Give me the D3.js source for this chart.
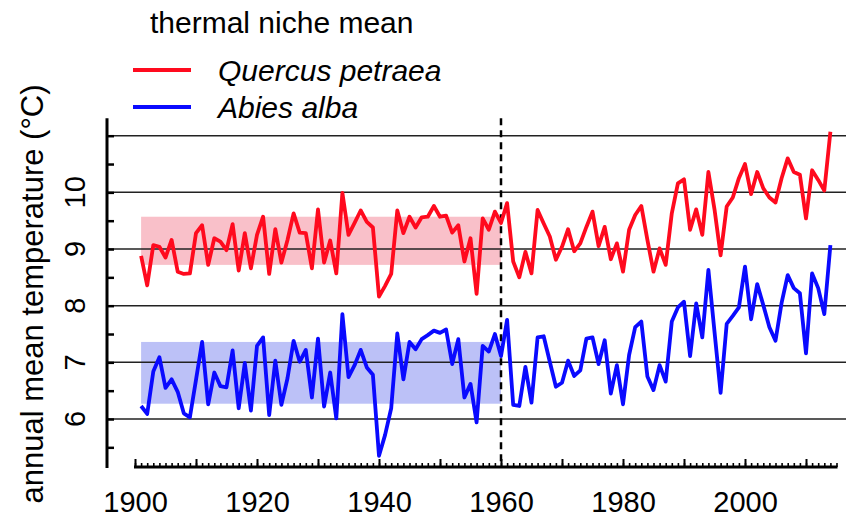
<!DOCTYPE html>
<html>
<head>
<meta charset="utf-8">
<script src="https://cdn.jsdelivr.net/npm/d3@7"></script>
<style>
  html, body { margin: 0; padding: 0; background: #fff; }
  svg { display: block; font-family: "Liberation Sans", Arial, sans-serif; }
</style>
</head>
<body>
<svg id="chart" width="853" height="518"></svg>
<script>
// Annual mean temperature within each species' thermal niche, 1901-2014
const years = d3.range(1901, 2015);

const quercusPetraea = [
  8.88, 8.36, 9.07, 9.04, 8.85, 9.16, 8.60, 8.56, 8.57, 9.28,
  9.42, 8.72, 9.19, 9.13, 8.98, 9.44, 8.62, 9.28, 8.66, 9.25,
  9.57, 8.56, 9.35, 8.76, 9.16, 9.63, 9.29, 9.28, 8.66, 9.70,
  8.76, 9.15, 8.57, 9.99, 9.25, 9.46, 9.68, 9.48, 9.38, 8.16,
  8.35, 8.56, 9.68, 9.28, 9.57, 9.38, 9.56, 9.57, 9.76, 9.57,
  9.59, 9.29, 9.42, 8.78, 9.19, 8.21, 9.54, 9.34, 9.66, 9.46,
  9.81, 8.78, 8.50, 8.95, 8.57, 9.69, 9.45, 9.22, 8.81, 9.04,
  9.35, 8.96, 9.10, 9.39, 9.66, 9.05, 9.39, 8.82, 9.10, 8.60,
  9.34, 9.60, 9.76, 9.16, 8.60, 9.01, 8.72, 9.63, 10.16, 10.23,
  9.34, 9.70, 9.25, 10.36, 9.70, 8.89, 9.75, 9.91, 10.25, 10.50,
  9.97, 10.36, 10.07, 9.91, 9.82, 10.25, 10.60, 10.36, 10.31, 9.54,
  10.39, 10.22, 10.03, 11.07
];

const abiesAlba = [
  6.23, 6.09, 6.84, 7.09, 6.55, 6.70, 6.48, 6.10, 6.03, 6.69,
  7.36, 6.26, 6.82, 6.58, 6.56, 7.21, 6.19, 6.99, 6.15, 7.29,
  7.44, 6.07, 7.03, 6.25, 6.72, 7.38, 7.01, 7.22, 6.38, 7.42,
  6.22, 6.82, 6.01, 7.85, 6.74, 6.95, 7.22, 6.91, 6.78, 5.35,
  5.72, 6.19, 7.51, 6.70, 7.36, 7.23, 7.41, 7.48, 7.56, 7.52,
  7.58, 6.97, 7.41, 6.38, 6.62, 5.94, 7.29, 7.19, 7.50, 7.11,
  7.75, 6.25, 6.23, 6.92, 6.29, 7.44, 7.46, 7.01, 6.57, 6.64,
  7.03, 6.76, 6.86, 7.42, 7.44, 6.97, 7.39, 6.45, 6.95, 6.26,
  7.13, 7.62, 7.72, 6.75, 6.51, 6.95, 6.66, 7.72, 7.97, 8.07,
  7.11, 8.04, 7.44, 8.63, 7.54, 6.46, 7.68, 7.82, 7.97, 8.69,
  7.76, 8.38, 8.01, 7.62, 7.38, 8.05, 8.54, 8.31, 8.22, 7.16,
  8.57, 8.31, 7.85, 9.07
];

// Thermal niche bands over the reference period 1901-1960
const nichePeriod = [1901, 1960];
const quercusNiche = [8.72, 9.57];
const abiesNiche = [6.27, 7.36];

const splitYear = 1960;
const yTicks = [6, 7, 8, 9, 10, 11];
const yTickLabels = ["6", "7", "8", "9", "10"];
const xTickLabels = [1900, 1920, 1940, 1960, 1980, 2000];

const speciesNames = ["Quercus petraea", "Abies alba"];
const speciesColors = ["#ff0a1e", "#0a0aff"];
const nicheFills = ["#f9c0c9", "#bcc1f7"];

const svg = d3.select("#chart");

const x = d3.scaleLinear().domain([1900, 2015]).range([135, 836.5]);
const y = d3.scaleLinear().domain([6, 11]).range([419, 135.7]);

const yAxisX = 107;
const xAxisY = 467;
const yTop = y(11.31), yBottom = xAxisY + 1;

// niche bands
const bands = [quercusNiche, abiesNiche];
svg.append("g").selectAll("rect").data(bands).join("rect")
  .attr("x", x(nichePeriod[0]))
  .attr("width", x(nichePeriod[1]) - x(nichePeriod[0]))
  .attr("y", d => y(d[1]))
  .attr("height", d => y(d[0]) - y(d[1]))
  .attr("fill", (d, i) => nicheFills[i]);

// horizontal grid
svg.append("g").selectAll("line").data(yTicks).join("line")
  .attr("x1", yAxisX).attr("x2", 846)
  .attr("y1", d => y(d)).attr("y2", d => y(d))
  .attr("stroke", "#222").attr("stroke-width", 1.5);

// y axis: ticks every 0.5 pointing inwards
const yAxis = d3.axisRight(y).tickValues(d3.range(5.5, 11.01, 0.5))
  .tickSize(7).tickFormat("");
const gy = svg.append("g").attr("transform", `translate(${yAxisX},0)`).call(yAxis);
gy.select(".domain").remove();
gy.selectAll(".tick line").attr("stroke", "#000").attr("stroke-width", 2.5);
svg.append("line")
  .attr("x1", yAxisX).attr("x2", yAxisX)
  .attr("y1", yTop).attr("y2", yBottom)
  .attr("stroke", "#000").attr("stroke-width", 3);

// y tick labels, rotated
svg.append("g").selectAll("text").data(yTickLabels).join("text")
  .attr("transform", d => `translate(85,${y(+d)}) rotate(-90)`)
  .attr("text-anchor", "middle")
  .attr("font-size", 29)
  .attr("fill", "#000")
  .text(d => d);

// x axis: yearly minor ticks, decadal major ticks, both pointing up
const minorAxis = d3.axisBottom(x).tickValues(d3.range(1900, 2016, 1))
  .tickSize(-4).tickFormat("");
const gxMinor = svg.append("g").attr("transform", `translate(0,${xAxisY})`).call(minorAxis);
gxMinor.select(".domain").remove();
gxMinor.selectAll(".tick line").attr("stroke", "#000").attr("stroke-width", 1.6);

const majorAxis = d3.axisBottom(x).tickValues(d3.range(1900, 2016, 10))
  .tickSize(-8).tickFormat("");
const gxMajor = svg.append("g").attr("transform", `translate(0,${xAxisY})`).call(majorAxis);
gxMajor.select(".domain").remove();
gxMajor.selectAll(".tick line").attr("stroke", "#000").attr("stroke-width", 2);

svg.append("line")
  .attr("x1", x(1900) - 1).attr("x2", x(2015) + 1)
  .attr("y1", xAxisY).attr("y2", xAxisY)
  .attr("stroke", "#000").attr("stroke-width", 3);

const labelAxis = d3.axisBottom(x).tickValues(xTickLabels)
  .tickSize(0).tickPadding(0).tickFormat(d3.format("d"));
const gxLab = svg.append("g").attr("transform", `translate(0,${xAxisY})`).call(labelAxis);
gxLab.select(".domain").remove();
gxLab.selectAll(".tick text")
  .attr("y", 45).attr("dy", null)
  .attr("font-size", 29)
  .attr("font-family", "'Liberation Sans', Arial, sans-serif")
  .attr("fill", "#000");

// reference-period divider
svg.append("line")
  .attr("x1", x(splitYear)).attr("x2", x(splitYear))
  .attr("y1", yTop).attr("y2", xAxisY)
  .attr("stroke", "#000").attr("stroke-width", 2.5)
  .attr("stroke-dasharray", "7,5");

// y axis title
svg.append("text")
  .attr("transform", "translate(43,294) rotate(-90)")
  .attr("text-anchor", "middle")
  .attr("font-size", 31)
  .attr("fill", "#000")
  .text("annual mean temperature (°C)");

// series
const line = d3.line().x((d, i) => x(years[i])).y(d => y(d));
[quercusPetraea, abiesAlba].forEach((series, i) => {
  svg.append("path")
    .datum(series)
    .attr("d", line)
    .attr("fill", "none")
    .attr("stroke", speciesColors[i])
    .attr("stroke-width", 3.8)
    .attr("stroke-linejoin", "round");
});

// legend
svg.append("text")
  .attr("x", 150).attr("y", 33)
  .attr("font-size", 30).attr("fill", "#000")
  .text("thermal niche mean");

const legendRows = [70, 107];
const lg = svg.append("g");
speciesNames.forEach((name, i) => {
  lg.append("line")
    .attr("x1", 133).attr("x2", 191)
    .attr("y1", legendRows[i]).attr("y2", legendRows[i])
    .attr("stroke", speciesColors[i]).attr("stroke-width", 4);
  lg.append("text")
    .attr("x", 218).attr("y", legendRows[i] + 11)
    .attr("font-size", 30).attr("font-style", "italic")
    .attr("fill", "#000")
    .text(name);
});
</script>
</body>
</html>
